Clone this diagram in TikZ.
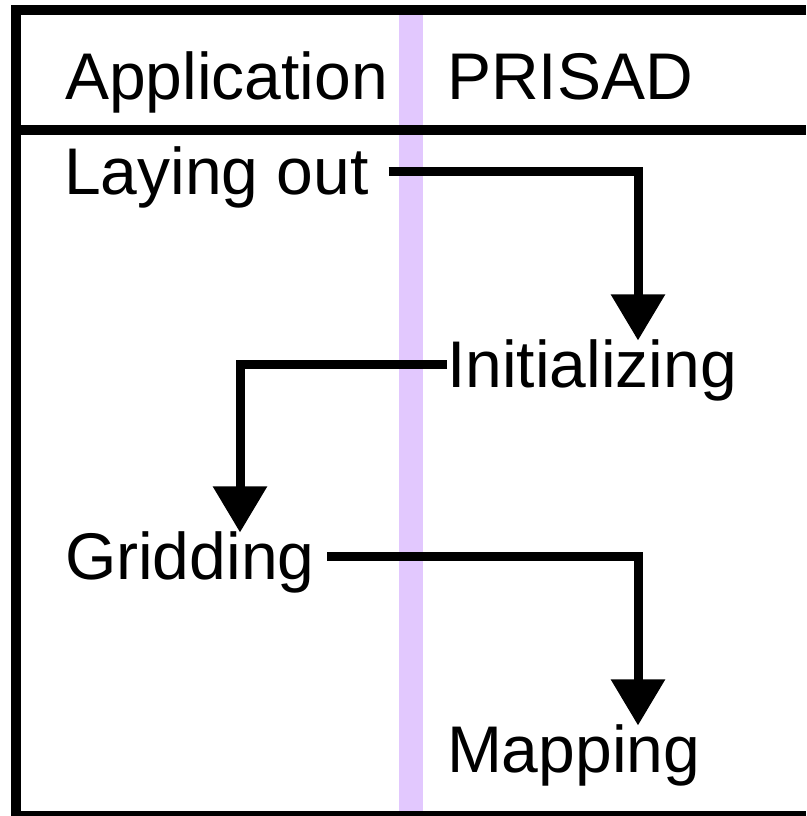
\documentclass[tikz,border=0pt]{standalone}
\usepackage{fontspec}
\setmainfont{Liberation Sans}
\usetikzlibrary{arrows.meta}
\definecolor{laneLilac}{RGB}{226,200,254}

\begin{document}
\begin{tikzpicture}[x=1pt,y=1pt,
  stepLabel/.style={font=\fontsize{66}{66}\selectfont,inner sep=0pt,outer sep=0pt,
    text height=47.5pt,text depth=0pt,anchor=base west},
  flowArrow/.style={line width=9pt,-{Triangle[width=52pt,length=46pt]}}]
  \def\colL{64}\def\colR{447}
  \useasboundingbox (0,0) rectangle (806,816);
  % lane divider and frame
  \fill[laneLilac] (399,5) rectangle (423,801);
  \draw[line width=10pt] (806,806) -- (16,806) -- (16,0) -- (806,0);
  \draw[line width=10pt] (16,686) -- (806,686);
  % headers
  \node[stepLabel] (appHead) at (65,716) {Application};
  \node[stepLabel] (prisadHead) at (\colR,716) {PRISAD};
  % steps
  \node[stepLabel] (layOut) at (\colL,621) {Laying out};
  \node[stepLabel] (initStep) at (\colR,428) {Initializing};
  \node[stepLabel] (gridStep) at (\colL+1,236) {Gridding};
  \node[stepLabel] (mapStep) at (\colR,43) {Mapping};
  \coordinate (laneR) at (638,0);
  \coordinate (laneL) at (240,0);
  \draw[flowArrow,shorten <=20pt] (layOut.east) -| (initStep.north -| laneR);
  \draw[flowArrow] (initStep.west) -| (gridStep.north -| laneL);
  \draw[flowArrow,shorten <=13pt] (gridStep.east) -| (mapStep.north -| laneR);
\end{tikzpicture}
\end{document}
